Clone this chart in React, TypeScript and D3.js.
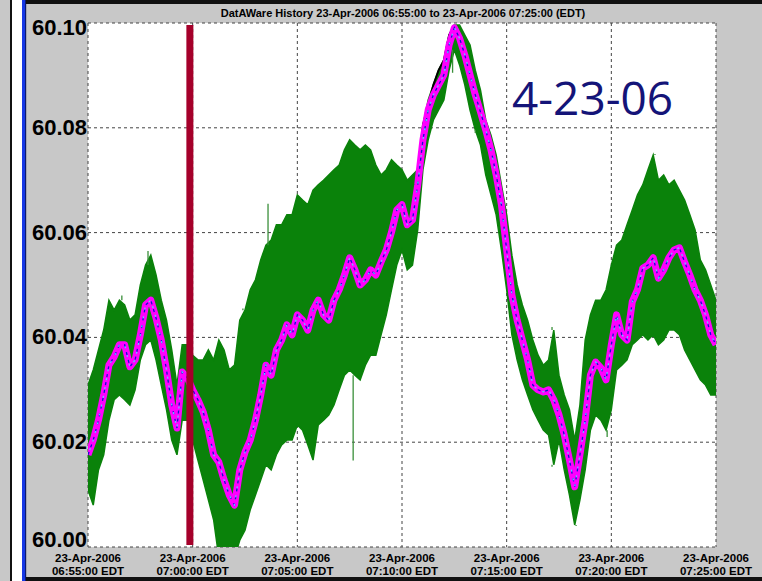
import React from 'react';
import * as d3 from 'd3';

// ---------- data ----------
const chartTitle = 'DatAWare History 23-Apr-2006 06:55:00 to 23-Apr-2006 07:25:00 (EDT)';
const annotationText = '4-23-06';
const tickDateLabel = '23-Apr-2006';
const xTickTimes = ['06:55:00', '07:00:00', '07:05:00', '07:10:00', '07:15:00', '07:20:00', '07:25:00'];
const yTickValues = [60.0, 60.02, 60.04, 60.06, 60.08, 60.1];
const yTickLabels = ['60.00', '60.02', '60.04', '60.06', '60.08', '60.10'];
const markerTime = '06:59:52';
const sampleStartTime = '06:55:00';
const sampleStepSeconds = 15;

// frequency, smoothed (magenta)
const magentaValues = [
  60.0176, 60.0204, 60.0242, 60.0290, 60.0347, 60.0363, 60.0386, 60.0386, 60.0344, 60.0357,
  60.0405, 60.0462, 60.0471, 60.0437, 60.0395, 60.0338, 60.0271, 60.0227, 60.0334, 60.0323,
  60.0300, 60.0281, 60.0258, 60.0223, 60.0176, 60.0162, 60.0128, 60.0099, 60.0080, 60.0147,
  60.0181, 60.0204, 60.0242, 60.0290, 60.0347, 60.0328, 60.0376, 60.0395, 60.0424, 60.0405,
  60.0443, 60.0433, 60.0414, 60.0452, 60.0471, 60.0443, 60.0433, 60.0471, 60.0491, 60.0519,
  60.0552, 60.0529, 60.0500, 60.0510, 60.0529, 60.0519, 60.0544, 60.0567, 60.0601, 60.0643,
  60.0653, 60.0615, 60.0624, 60.0691, 60.0777, 60.0834, 60.0863, 60.0882, 60.0901, 60.0958,
  60.0991, 60.0971, 60.0939, 60.0901, 60.0863, 60.0830, 60.0796, 60.0758, 60.0710, 60.0653,
  60.0567, 60.0481, 60.0433, 60.0395, 60.0357, 60.0309, 60.0300, 60.0296, 60.0300, 60.0281,
  60.0252, 60.0214, 60.0166, 60.0115, 60.0176, 60.0242, 60.0328, 60.0353, 60.0342, 60.0319,
  60.0386, 60.0443, 60.0405, 60.0395, 60.0468, 60.0491, 60.0532, 60.0538, 60.0552, 60.0513,
  60.0529, 60.0552, 60.0567, 60.0571, 60.0544, 60.0519, 60.0491, 60.0471, 60.0443, 60.0405,
  60.0386,
];

// frequency, raw (green) – upper and lower envelope
const greenHigh = [
  60.0309, 60.0338, 60.0376, 60.0414, 60.0471, 60.0452, 60.0471, 60.0462, 60.0433, 60.0443,
  60.0500, 60.0538, 60.0557, 60.0519, 60.0471, 60.0433, 60.0376, 60.0309, 60.0386, 60.0386,
  60.0366, 60.0357, 60.0357, 60.0376, 60.0357, 60.0395, 60.0376, 60.0338, 60.0347, 60.0433,
  60.0452, 60.0491, 60.0510, 60.0548, 60.0576, 60.0586, 60.0615, 60.0615, 60.0634, 60.0634,
  60.0672, 60.0662, 60.0653, 60.0681, 60.0691, 60.0700, 60.0710, 60.0720, 60.0729, 60.0758,
  60.0777, 60.0767, 60.0758, 60.0767, 60.0758, 60.0729, 60.0710, 60.0720, 60.0739, 60.0729,
  60.0720, 60.0700, 60.0710, 60.0720, 60.0805, 60.0853, 60.0882, 60.0910, 60.0929, 60.0977,
  60.0996, 60.0996, 60.0977, 60.0958, 60.0910, 60.0872, 60.0815, 60.0786, 60.0748, 60.0691,
  60.0634, 60.0557, 60.0500, 60.0462, 60.0433, 60.0395, 60.0366, 60.0347, 60.0357, 60.0414,
  60.0328, 60.0290, 60.0262, 60.0204, 60.0271, 60.0395, 60.0443, 60.0471, 60.0471, 60.0491,
  60.0538, 60.0576, 60.0586, 60.0615, 60.0643, 60.0672, 60.0691, 60.0720, 60.0748, 60.0700,
  60.0710, 60.0691, 60.0700, 60.0681, 60.0662, 60.0634, 60.0605, 60.0548, 60.0529, 60.0500,
  60.0471,
];
const greenLow = [
  60.0109, 60.0080, 60.0147, 60.0176, 60.0242, 60.0281, 60.0290, 60.0281, 60.0271, 60.0300,
  60.0357, 60.0386, 60.0395, 60.0357, 60.0309, 60.0262, 60.0204, 60.0176, 60.0242, 60.0242,
  60.0204, 60.0166, 60.0128, 60.0090, 60.0052, 59.9980, 59.9980, 59.9980, 59.9980, 60.0013,
  60.0032, 60.0071, 60.0099, 60.0128, 60.0157, 60.0147, 60.0176, 60.0195, 60.0204, 60.0204,
  60.0233, 60.0223, 60.0195, 60.0166, 60.0233, 60.0242, 60.0252, 60.0271, 60.0300, 60.0328,
  60.0338, 60.0328, 60.0319, 60.0347, 60.0366, 60.0366, 60.0405, 60.0443, 60.0491, 60.0538,
  60.0567, 60.0529, 60.0538, 60.0605, 60.0720, 60.0777, 60.0815, 60.0834, 60.0853, 60.0910,
  60.0949, 60.0920, 60.0882, 60.0834, 60.0796, 60.0767, 60.0710, 60.0672, 60.0634, 60.0567,
  60.0491, 60.0405, 60.0357, 60.0319, 60.0290, 60.0262, 60.0242, 60.0223, 60.0214, 60.0157,
  60.0204, 60.0147, 60.0099, 60.0042, 60.0090, 60.0147, 60.0223, 60.0252, 60.0242, 60.0223,
  60.0262, 60.0338, 60.0347, 60.0357, 60.0386, 60.0395, 60.0405, 60.0395, 60.0405, 60.0386,
  60.0395, 60.0414, 60.0414, 60.0405, 60.0376, 60.0357, 60.0338, 60.0319, 60.0309, 60.0290,
  60.0290,
];

// isolated raw spikes seen beyond the band
const spikeTimes = ['06:56:37', '06:57:52', '07:02:24', '07:03:36', '07:07:40', '07:17:10', '07:17:10', '07:18:19', '07:19:48', '07:22:05', '07:12:25', '07:13:30'];
const spikeValues = [60.0480, 60.0565, 60.0455, 60.0655, 60.0165, 60.0420, 60.0153, 60.0040, 60.0210, 60.0750, 60.0905, 60.0790];

// black trace near the peak
const blackStartIndex = 63;
const blackValues = [60.0710, 60.0805, 60.0843, 60.0882, 60.0910, 60.0929, 60.0977, 60.0996];

// ---------- layout ----------
const W = 762;
const H = 581;
const PL = 88;
const PR = 716;
const PT = 23;
const PB = 547;
const FONT = "Arial, 'Liberation Sans', sans-serif";

const parseT = (s: string) => {
  const [h, m, sec] = s.split(':').map(Number);
  return new Date(2006, 3, 23, h, m, sec);
};

export default function App() {
  const t0 = parseT(sampleStartTime);
  const times = magentaValues.map((_, i) => new Date(t0.getTime() + i * sampleStepSeconds * 1000));
  const x = d3.scaleTime().domain([parseT(xTickTimes[0]), parseT(xTickTimes[xTickTimes.length - 1])]).range([PL, PR]);
  const y = d3.scaleLinear().domain([60.0, 60.1]).range([PB, PT]);
  const idx = magentaValues.map((_, i) => i);

  const greenArea = d3
    .area<number>()
    .x((i) => x(times[i]))
    .y0((i) => y(greenLow[i]))
    .y1((i) => y(greenHigh[i]))
    .curve(d3.curveLinear)(idx) as string;

  const line = d3
    .line<number>()
    .x((i) => x(times[i]))
    .y((i) => y(magentaValues[i]))(idx) as string;

  const blackLine = d3
    .line<number>()
    .x((_, k) => x(times[blackStartIndex + k]))
    .y((v) => y(v))(blackValues) as string;

  const mx = x(parseT(markerTime));

  const spikes = spikeTimes.map((ts, k) => {
    const t = parseT(ts);
    const i = Math.round((t.getTime() - t0.getTime()) / (sampleStepSeconds * 1000));
    const v = spikeValues[k];
    const base = v > magentaValues[i] ? greenHigh[i] : greenLow[i];
    return { x: x(t), y1: y(base), y2: y(v) };
  });

  return (
    <svg width={W} height={H} style={{ position: 'absolute', left: 0, top: 0, display: 'block' }}>
      <defs>
        <clipPath id="plotClip">
          <rect x={PL} y={PT} width={PR - PL} height={PB - PT} />
        </clipPath>
      </defs>
      <rect x={0} y={0} width={W} height={H} fill="#c8c8c8" />
      {/* left frame strips */}
      <rect x={10} y={0} width={2} height={H} fill="#111" />
      <rect x={12} y={0} width={10} height={H} fill="#ffffff" />
      <rect x={22} y={0} width={3} height={H} fill="#1638e6" />
      <rect x={25} y={0} width={1.2} height={H} fill="#0a1a70" />
      <rect x={26} y={0} width={W - 26} height={4} fill="#111" />
      <rect x={26} y={H - 4} width={W - 26} height={4} fill="#111" />

      {/* plot area */}
      <rect x={PL} y={PT} width={PR - PL} height={PB - PT} fill="#ffffff" />
      {yTickValues.map((v) => (
        <line key={'h' + v} x1={PL} x2={PR} y1={y(v)} y2={y(v)} stroke="#444" strokeWidth={1} strokeDasharray="3,3" />
      ))}
      {xTickTimes.map((t) => (
        <line key={'v' + t} x1={x(parseT(t))} x2={x(parseT(t))} y1={PT} y2={PB} stroke="#444" strokeWidth={1} strokeDasharray="3,3" />
      ))}

      <g clipPath="url(#plotClip)">
        <path d={greenArea} fill="#0a820a" stroke="#0a820a" strokeWidth={1.5} strokeLinejoin="miter" />
        {spikes.map((s, k) => (
          <line key={'s' + k} x1={s.x} x2={s.x} y1={s.y1} y2={s.y2} stroke="#3a8f3a" strokeWidth={1.3} />
        ))}
        <path d={blackLine} fill="none" stroke="#000" strokeWidth={2} />
        <path d={line} fill="none" stroke="#ff00ff" strokeWidth={7} strokeLinejoin="round" />
        <path d={line} fill="none" stroke="#1010d0" strokeWidth={1.3} strokeDasharray="3,5" />
        <path d={line} fill="none" stroke="#5ad0ff" strokeWidth={1.2} strokeDasharray="2,7" strokeDashoffset={4} />
      </g>

      {/* event marker */}
      <rect x={mx - 3.5} y={PT + 2} width={7} height={PB - PT - 4} fill="#a5002a" />

      {/* title */}
      <text x={403} y={17} textAnchor="middle" fontFamily={FONT} fontWeight="bold" fontSize={11} fill="#000">
        {chartTitle}
      </text>

      {/* y labels */}
      {yTickValues.map((v, i) => (
        <text
          key={'yl' + v}
          x={87}
          y={Math.max(35, Math.min(547, y(v) + 7))}
          textAnchor="end"
          fontFamily={FONT}
          fontWeight="bold"
          fontSize={22}
          fill="#000"
        >
          {yTickLabels[i]}
        </text>
      ))}

      {/* x labels */}
      {xTickTimes.map((t) => (
        <g key={'xl' + t}>
          <text x={x(parseT(t))} y={562} textAnchor="middle" fontFamily={FONT} fontWeight="bold" fontSize={11.5} fill="#000">
            {tickDateLabel}
          </text>
          <text x={x(parseT(t))} y={575} textAnchor="middle" fontFamily={FONT} fontWeight="bold" fontSize={11.5} fill="#000">
            {t + ' EDT'}
          </text>
        </g>
      ))}

      <text x={512} y={115} fontFamily="'Open Sans', sans-serif" fontSize={46} fill="#141478">
        {annotationText}
      </text>
    </svg>
  );
}
